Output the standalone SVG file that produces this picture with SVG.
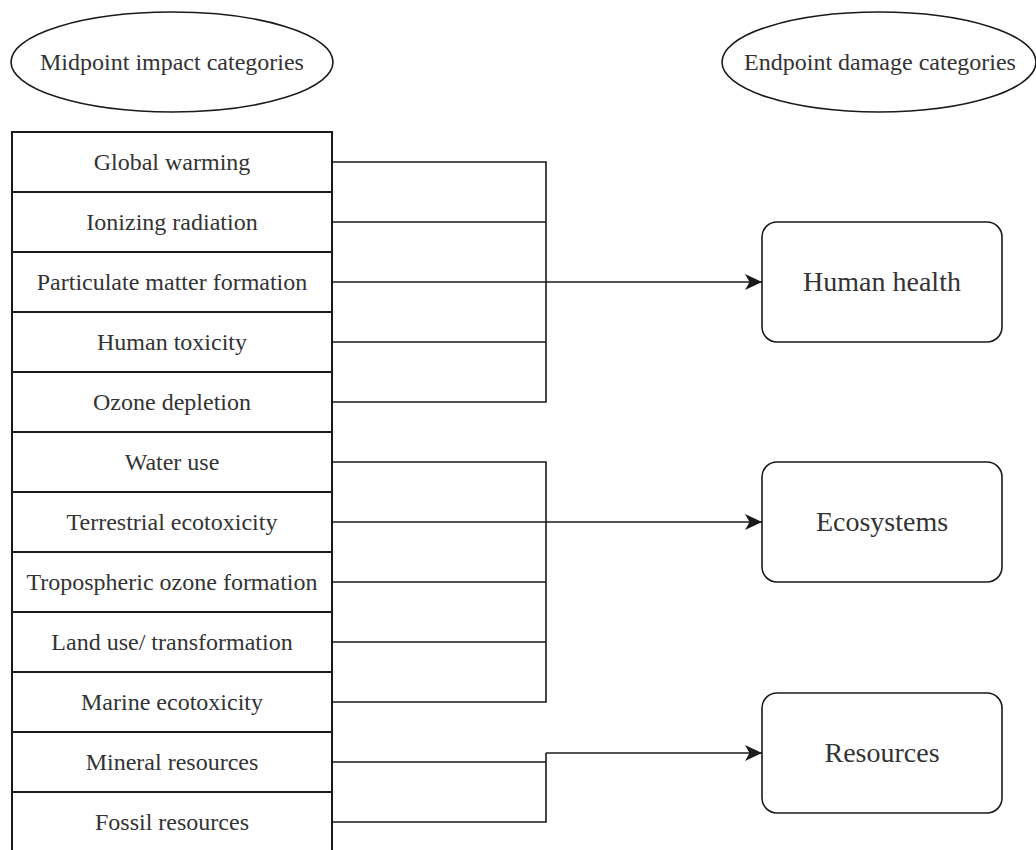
<svg xmlns="http://www.w3.org/2000/svg" width="1036" height="850" viewBox="0 0 1036 850">
<style>
  .bg{fill:#ffffff}
  .shape{fill:#ffffff;stroke:#1a1a1a;stroke-width:1.6}
  .row{fill:#ffffff;stroke:#1a1a1a;stroke-width:2}
  text{font-family:'Liberation Serif',serif;font-size:24px;fill:#333333;text-anchor:middle}
  text.big{font-size:28px}
  .conn{fill:none;stroke:#1a1a1a;stroke-width:1.6}
</style>
<defs>
  <marker id="arrow" markerUnits="userSpaceOnUse" markerWidth="17" markerHeight="16" refX="17" refY="8" orient="auto">
    <path d="M0,0 L17,8 L0,16 L4.5,8 Z" fill="#1a1a1a"/>
  </marker>
</defs>
<rect class="bg" x="0" y="0" width="1036" height="850"/>

<g id="midpoint-header">
  <ellipse class="shape" cx="172" cy="62" rx="161" ry="50"/>
  <text x="172" y="70">Midpoint impact categories</text>
</g>
<g id="endpoint-header">
  <ellipse class="shape" cx="879" cy="62" rx="157" ry="50"/>
  <text x="880" y="70">Endpoint damage categories</text>
</g>

<g id="global-warming"><rect class="row" x="12" y="132" width="320" height="60"/><text x="172" y="170">Global warming</text></g>
<g id="ionizing-radiation"><rect class="row" x="12" y="192" width="320" height="60"/><text x="172" y="230">Ionizing radiation</text></g>
<g id="particulate-matter"><rect class="row" x="12" y="252" width="320" height="60"/><text x="172" y="290">Particulate matter formation</text></g>
<g id="human-toxicity"><rect class="row" x="12" y="312" width="320" height="60"/><text x="172" y="350">Human toxicity</text></g>
<g id="ozone-depletion"><rect class="row" x="12" y="372" width="320" height="60"/><text x="172" y="410">Ozone depletion</text></g>
<g id="water-use"><rect class="row" x="12" y="432" width="320" height="60"/><text x="172" y="470">Water use</text></g>
<g id="terrestrial-ecotoxicity"><rect class="row" x="12" y="492" width="320" height="60"/><text x="172" y="530">Terrestrial ecotoxicity</text></g>
<g id="tropospheric-ozone"><rect class="row" x="12" y="552" width="320" height="60"/><text x="172" y="590">Tropospheric ozone formation</text></g>
<g id="land-use"><rect class="row" x="12" y="612" width="320" height="60"/><text x="172" y="650">Land use/ transformation</text></g>
<g id="marine-ecotoxicity"><rect class="row" x="12" y="672" width="320" height="60"/><text x="172" y="710">Marine ecotoxicity</text></g>
<g id="mineral-resources"><rect class="row" x="12" y="732" width="320" height="60"/><text x="172" y="770">Mineral resources</text></g>
<g id="fossil-resources"><rect class="row" x="12" y="792" width="320" height="60"/><text x="172" y="830">Fossil resources</text></g>

<g id="human-health">
  <rect class="shape" x="762" y="222" width="240" height="120" rx="15" ry="15"/>
  <text class="big" x="882" y="291">Human health</text>
</g>
<g id="ecosystems">
  <rect class="shape" x="762" y="462" width="240" height="120" rx="15" ry="15"/>
  <text class="big" x="882" y="531">Ecosystems</text>
</g>
<g id="resources">
  <rect class="shape" x="762" y="693" width="240" height="120" rx="15" ry="15"/>
  <text class="big" x="882" y="762">Resources</text>
</g>

<g id="connectors">
  <path class="conn" d="M332,162 H546 V402 H332 M332,222 H546 M332,342 H546"/>
  <path class="conn" d="M332,282 H762" marker-end="url(#arrow)"/>
  <path class="conn" d="M332,462 H546 V702 H332 M332,582 H546 M332,642 H546"/>
  <path class="conn" d="M332,522 H762" marker-end="url(#arrow)"/>
  <path class="conn" d="M332,762 H546 M332,822 H546 V753"/>
  <path class="conn" d="M546,753 H762" marker-end="url(#arrow)"/>
</g>
</svg>
